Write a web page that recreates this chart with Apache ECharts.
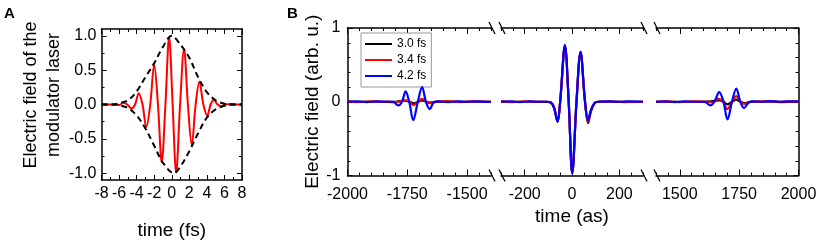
<!DOCTYPE html>
<html>
<head>
<meta charset="utf-8">
<script src="https://cdn.jsdelivr.net/npm/echarts@6/dist/echarts.min.js"></script>
<style>
  html, body { margin: 0; padding: 0; background: #fff; }
  #main { width: 821px; height: 246px; }
</style>
</head>
<body>
<div id="main"></div>
<script>
// ---- panel A: modulator laser field (time in fs) ----
const fieldA = [
  [-8, 0], [-7, 0], [-6.4, 0], [-6.0, -0.008], [-5.5, 0.025], [-5.05, 0], [-4.6, -0.06],
  [-4.18, 0], [-3.76, 0.165], [-3.33, 0], [-2.9, -0.33], [-2.45, 0], [-2.0, 0.58],
  [-1.57, 0], [-1.14, -0.84], [-0.72, 0], [-0.3, 0.98], [0.1, 0], [0.5, -0.99],
  [0.95, 0], [1.4, 0.81], [1.84, 0], [2.28, -0.59], [2.72, 0], [3.15, 0.33], [3.6, 0],
  [4.05, -0.16], [4.43, 0], [4.8, 0.07], [5.22, 0], [5.65, -0.025], [6.07, 0],
  [6.5, 0.005], [7, 0], [8, 0]
];
const envelopeUpper = [
  [-8, 0], [-6.5, 0], [-6, 0.02], [-5, 0.06], [-4, 0.19], [-3, 0.4], [-2, 0.6],
  [-1, 0.84], [0, 1.0], [1, 0.87], [2, 0.68], [3, 0.4], [4, 0.18], [5, 0.06],
  [6, 0.01], [6.5, 0], [8, 0]
];
const envelopeLower = [
  [-8, 0], [-6.3, 0], [-6, -0.01], [-5, -0.05], [-4, -0.16], [-3, -0.35], [-2, -0.6],
  [-1, -0.85], [0.25, -1.0], [1, -0.9], [2, -0.68], [3, -0.42], [4, -0.19], [5, -0.07],
  [6, -0.02], [6.6, 0], [8, 0]
];
const ticksAY = [-1, -0.5, 0, 0.5, 1];
const minorTicksAY = [-0.75, -0.25, 0.25, 0.75];

// ---- panel B: electric field for three pulse durations (time in as) ----
const legendNames = ["3.0 fs", "3.4 fs", "4.2 fs"];
const lineColors = ["#000000", "#ff0000", "#0000ff"];

const pre30 = [
  [-2000, 0], [-1800, 0], [-1760, 0.015], [-1740, 0], [-1722, -0.02], [-1705, 0],
  [-1688, 0.018], [-1670, 0], [-1655, -0.01], [-1620, 0], [-1400, 0]
];
const pre34 = [
  [-2000, 0.005], [-1960, -0.005], [-1900, 0.005], [-1850, 0], [-1800, -0.005],
  [-1760, 0.02], [-1740, 0], [-1725, -0.045], [-1705, 0], [-1688, 0.04], [-1670, 0],
  [-1655, -0.02], [-1630, 0], [-1580, 0.008], [-1530, -0.005], [-1480, 0.005], [-1400, 0]
];
const pre42 = [
  [-2000, 0], [-1960, 0.005], [-1920, -0.005], [-1880, 0.005], [-1840, 0], [-1810, 0],
  [-1788, -0.05], [-1772, 0], [-1757, 0.14], [-1742, 0], [-1725, -0.25], [-1706, 0],
  [-1688, 0.2], [-1672, 0], [-1656, -0.1], [-1640, -0.01], [-1620, 0.005],
  [-1580, -0.005], [-1540, 0.005], [-1500, 0], [-1460, 0.005], [-1420, -0.003], [-1400, 0]
];

const main30 = [
  [-300, 0], [-200, 0], [-110, 0], [-90, -0.01], [-76, -0.08], [-61, -0.27], [-50, 0],
  [-30, 0.75], [-14, 0], [1, -0.97], [19, 0], [36, 0.67], [55, 0], [68, -0.29],
  [80, -0.13], [95, -0.02], [110, 0], [300, 0]
];
const main34 = [
  [-300, 0.005], [-250, -0.005], [-200, 0.005], [-150, 0], [-110, 0], [-90, -0.01],
  [-76, -0.08], [-61, -0.27], [-50, 0], [-30, 0.75], [-14, 0], [1, -0.97], [19, 0],
  [36, 0.67], [55, 0], [68, -0.27], [80, -0.12], [95, -0.02], [110, 0], [160, 0.005],
  [220, -0.005], [300, 0]
];
const main42 = [
  [-300, 0], [-260, 0.005], [-220, -0.005], [-180, 0.005], [-140, 0], [-110, 0],
  [-90, -0.01], [-76, -0.08], [-61, -0.27], [-50, 0], [-30, 0.77], [-14, 0], [1, -0.97],
  [19, 0], [36, 0.68], [55, 0], [68, -0.25], [80, -0.11], [95, -0.02], [110, 0],
  [160, 0.005], [200, 0], [240, 0.005], [300, 0]
];

const post30 = [
  [1400, 0], [1600, 0], [1640, 0.01], [1665, 0.02], [1685, 0], [1700, -0.035],
  [1720, 0], [1738, 0.03], [1756, 0], [1772, -0.02], [1800, 0], [2000, 0]
];
const post34 = [
  [1400, 0], [1450, 0.005], [1500, -0.005], [1560, 0.005], [1620, 0], [1640, -0.01],
  [1662, 0.04], [1682, 0], [1700, -0.1], [1720, 0], [1738, 0.075], [1755, 0],
  [1772, -0.03], [1800, 0], [1860, 0.005], [1920, -0.004], [2000, 0.005]
];
const post42 = [
  [1400, 0], [1440, 0.005], [1480, -0.005], [1520, 0.005], [1560, 0], [1600, 0],
  [1612, -0.01], [1628, -0.05], [1646, 0], [1666, 0.13], [1684, 0], [1701, -0.24],
  [1720, 0], [1738, 0.18], [1755, 0], [1771, -0.085], [1790, -0.01], [1810, 0.005],
  [1850, 0], [1880, 0.008], [1920, 0], [1960, 0.006], [2000, 0.005]
];

const ticksB1 = [-2000, -1750, -1500];
const ticksB2 = [-200, 0, 200];
const ticksB3 = [1500, 1750, 2000];

// ---- layout ----
const FONT = "Liberation Sans";
const gridA = { left: 101.5, top: 29, width: 140.5, height: 151 };
const gridsB = [
  { left: 347.5, top: 28, width: 143.5, height: 147.5 },
  { left: 501, top: 28, width: 142, height: 147.5 },
  { left: 656, top: 28, width: 142.5, height: 147.5 }
];
const frameLine = { show: true, onZero: false, lineStyle: { color: "#000", width: 1.5 } };
const tickStyle = { color: "#000", width: 1 };
const titleStyle = { color: "#000", fontSize: 19, fontFamily: FONT };
const plain = v => String(v);

// minor-tick axis (with frame line) + major-tick axis on the same edge
function xPair(gridIndex, min, max, majors, position, labels, name, nameGap) {
  const base = { type: "value", gridIndex, min, max, interval: 50, position, splitLine: { show: false } };
  const minor = Object.assign({}, base, {
    axisLine: frameLine,
    axisTick: { show: true, inside: true, length: 3, lineStyle: tickStyle },
    axisLabel: labels
      ? { show: true, customValues: majors, formatter: plain, color: "#000", fontSize: 16,
          fontFamily: FONT, margin: 11 }
      : { show: false }
  });
  if (name) {
    Object.assign(minor, { name, nameLocation: "middle", nameGap, nameTextStyle: titleStyle });
  }
  const major = Object.assign({}, base, {
    axisLine: { show: false, onZero: false },
    axisTick: { show: true, inside: true, length: 6, customValues: majors, lineStyle: tickStyle },
    axisLabel: { show: false }
  });
  return [minor, major];
}

function yA(position, labels, ticks, len, line) {
  return {
    type: "value", gridIndex: 0, min: -1.1, max: 1.1, position,
    splitLine: { show: false },
    axisLine: line ? frameLine : { show: false, onZero: false },
    axisTick: { show: true, inside: true, length: len, customValues: ticks, lineStyle: tickStyle },
    axisLabel: labels
      ? { show: true, customValues: ticks, formatter: v => v.toFixed(1), color: "#000",
          fontSize: 16, fontFamily: FONT, margin: 5 }
      : { show: false }
  };
}

function xA(position, labels) {
  return {
    type: "value", gridIndex: 0, min: -8, max: 8, interval: 2, position,
    splitLine: { show: false },
    axisLine: frameLine,
    axisTick: { show: true, inside: true, length: 5, lineStyle: tickStyle },
    minorTick: { show: true, splitNumber: 2, length: 3, lineStyle: tickStyle },
    axisLabel: labels
      ? { show: true, color: "#000", fontSize: 16, fontFamily: FONT, margin: 6 }
      : { show: false },
    name: labels ? "time (fs)" : "",
    nameLocation: "middle", nameGap: 41,
    nameTextStyle: titleStyle
  };
}

function yB(gridIndex, position, show, labels, name) {
  return {
    type: "value", gridIndex, min: -1, max: 1, interval: 1, position, show,
    splitLine: { show: false },
    axisLine: frameLine,
    axisTick: { show: true, inside: true, length: 5, lineStyle: tickStyle },
    minorTick: { show: true, splitNumber: 5, length: 3, lineStyle: tickStyle },
    axisLabel: labels
      ? { show: true, color: "#000", fontSize: 16, fontFamily: FONT, margin: 7 }
      : { show: false },
    name: name || "", nameLocation: "middle", nameGap: 23,
    nameTextStyle: titleStyle
  };
}

const xAxes = [
  xA("bottom", true), xA("top", false),
  ...xPair(1, -2000, -1400, ticksB1, "bottom", true),
  ...xPair(1, -2000, -1400, ticksB1, "top", false),
  ...xPair(2, -300, 300, ticksB2, "bottom", true, "time (as)", 32),
  ...xPair(2, -300, 300, ticksB2, "top", false),
  ...xPair(3, 1400, 2000, ticksB3, "bottom", true),
  ...xPair(3, 1400, 2000, ticksB3, "top", false)
];
const yAxes = [
  yA("left", true, ticksAY, 5, true), yA("left", false, minorTicksAY, 3, false),
  yA("right", false, ticksAY, 5, true), yA("right", false, minorTicksAY, 3, false),
  yB(1, "left", true, true, "Electric field (arb. u.)"),
  yB(2, "left", false, false),
  yB(3, "right", true, false)
];

function lineSeries(name, data, color, xi, yi, extra) {
  return Object.assign({
    name, type: "line", data, xAxisIndex: xi, yAxisIndex: yi,
    symbol: "none", showSymbol: false, smooth: 0.35, animation: false,
    lineStyle: { color, width: 2.2 }, itemStyle: { color }
  }, extra || {});
}

const segData = [[pre30, pre34, pre42], [main30, main34, main42], [post30, post34, post42]];
const segX = [2, 6, 10];
const segY = [4, 5, 6];
const seriesB = [];
segData.forEach((seg, s) => {
  seg.forEach((d, k) => {
    seriesB.push(lineSeries(legendNames[k], d, lineColors[k], segX[s], segY[s], { z: 2 + k }));
  });
});

const seriesA = [
  lineSeries("fieldA", fieldA, "#ff0000", 0, 0, { lineStyle: { color: "#ff0000", width: 2 } }),
  lineSeries("envUp", envelopeUpper, "#000", 0, 0, { z: 3, lineStyle: { color: "#000", width: 2, type: [6, 4] } }),
  lineSeries("envLow", envelopeLower, "#000", 0, 0, { z: 3, lineStyle: { color: "#000", width: 2, type: [6, 4] } })
];

// break marks on the top and bottom frame of panel B
const breakMarks = [];
for (let i = 0; i < 2; i++) {
  const x0 = gridsB[i].left + gridsB[i].width;
  const x1 = gridsB[i + 1].left;
  const yTop = gridsB[0].top;
  const yBot = gridsB[0].top + gridsB[0].height;
  [x0 - 2, x1 - 2].forEach(a => {
    [yTop, yBot].forEach(y => {
      breakMarks.push({
        type: "line",
        shape: { x1: a, y1: y - 6, x2: a + 6, y2: y + 6 },
        style: { stroke: "#000", lineWidth: 1.3 }
      });
    });
  });
}

const option = {
  animation: false,
  textStyle: { fontFamily: FONT },
  grid: [gridA, ...gridsB].map(g => Object.assign({ containLabel: false }, g)),
  xAxis: xAxes,
  yAxis: yAxes,
  legend: {
    data: legendNames, orient: "vertical", left: 361, top: 33,
    icon: "rect", itemWidth: 27, itemHeight: 2, itemGap: 2, padding: [4, 5, 4, 4],
    borderColor: "#999", borderWidth: 1, backgroundColor: "#fff",
    textStyle: { fontSize: 12, color: "#000", fontFamily: FONT, lineHeight: 14 }
  },
  graphic: [
    { type: "text", left: 4, top: 6, style: { text: "A", font: "bold 15px " + FONT, fill: "#000" } },
    { type: "text", left: 287, top: 6, style: { text: "B", font: "bold 15px " + FONT, fill: "#000" } },
    {
      type: "text", x: 43, y: 95, rotation: Math.PI / 2,
      style: {
        text: "Electric field of the\nmodulator laser", font: "18px " + FONT, fill: "#000",
        align: "center", verticalAlign: "middle", lineHeight: 23
      }
    },
    ...breakMarks
  ],
  series: [...seriesA, ...seriesB]
};

const chart = echarts.init(document.getElementById("main"));
chart.setOption(option);
</script>
</body>
</html>
